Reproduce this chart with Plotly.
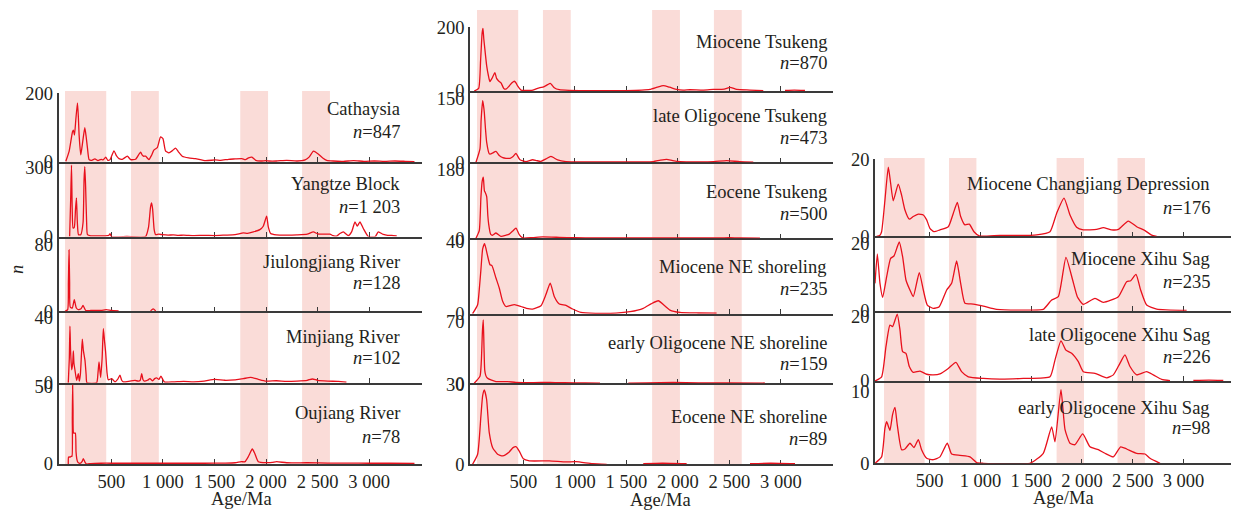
import plotly.graph_objects as go

W, H = 1239, 512
OFF = 8  # default page margin around the plot div

# ---------------- data ----------------
age_ticks = [500, 1000, 1500, 2000, 2500, 3000]
age_tick_text = ["500", "1 000", "1 500", "2 000", "2 500", "3 000"]
band_starts = [50, 690, 1750, 2350]
band_ends = [450, 960, 2020, 2620]

# (age Ma, count) pairs; (None, None) = gap
cathaysia = [(58,2),(90,31),(123,89),(132,94),(142,79),(155,125),(171,174),(180,130),(187,79),(203,21),(222,60),(242,101),(255,75),(268,41),(284,7),(310,5),(340,9),(370,4),(400,8),(420,6),(445,14),(465,5),(487,7),(525,33),(550,18),(574,10),(606,8),(655,17),(687,7),(735,8),(783,29),(800,20),(810,17),(832,17),(864,7),(890,20),(912,35),(945,42),(977,74),(1000,69),(1025,33),(1057,27),(1090,33),(1122,41),(1150,30),(1187,17),(1250,12),(1315,10),(1412,4),(1508,6),(1560,5),(1637,8),(1700,9),(1766,10),(1800,7),(1830,12),(1863,14),(1900,5),(1950,3),(2000,4),(2030,3),(2100,3),(2200,5),(2300,3),(2380,6),(2420,15),(2460,32),(2500,25),(2550,12),(2589,5),(2650,3),(2750,2),(2850,4),(2950,2),(3050,3),(3150,2),(3250,3),(3350,2),(3440,1)]
yangtze = [(95,0),(105,160),(113,312),(120,120),(128,37),(140,40),(152,120),(161,169),(170,60),(181,8),(203,8),(225,60),(235,250),(242,306),(250,220),(260,60),(268,8),(300,3),(350,3),(400,3),(440,3),(475,5),(487,12),(500,0),(650,0),(832,0),(860,40),(880,130),(890,147),(900,120),(915,30),(929,8),(960,10),(993,8),(1050,6),(1100,7),(1150,5),(1200,6),(1300,4),(1400,5),(1500,4),(1600,6),(1700,8),(1780,16),(1820,14),(1877,20),(1940,30),(1973,45),(2006,89),(2022,42),(2045,13),(2100,7),(2200,6),(2300,7),(2400,10),(2459,20),(2500,12),(2560,10),(2620,10),(2650,4),(2685,1.5),(2717,13),(2750,20),(2798,4),(2830,20),(2863,64),(2885,45),(2911,64),(2944,35),(2992,0),(3060,0),(3089,20),(3138,9),(3180,5),(3220,5),(3268,3)]
jiulongjiang = [(50,0),(76,2),(83,35),(89,74),(95,35),(101,5),(121,4),(140,14),(160,4),(179,2),(205,3),(225,7),(251,1),(300,1),(400,1),(450,2),(500,1),(570,0.5),(None,None),(880,0.5),(905,3),(930,0.5)]
minjiang = [(82,0),(92,15),(98,35),(104,20),(115,8),(125,12),(131,19.6),(137,12),(147,7.7),(163,1.4),(179,5.6),(189,1),(199,5),(210,18),(218,27),(228,20),(244,13.8),(255,5),(263,0),(357,0),(370,6),(380,12.8),(388,8),(396,3.3),(410,15),(422,33.4),(433,26),(444,19),(458,6),(470,1.8),(503,2.5),(535,0.5),(560,2),(583,4.6),(600,1.5),(616,0.5),(680,1),(729,1.4),(761,1),(780,1.5),(794,5.6),(806,2),(819,1),(850,1.5),(874,2.5),(900,1.2),(920,2.5),(939,3),(960,2),(981,4),(1013,0.5),(1100,0.5),(1200,0.8),(1300,0.5),(1400,1),(1500,2),(1600,1.5),(1700,1.8),(1780,2.5),(1850,3.3),(1920,2.2),(2000,1),(2100,1.2),(2200,0.8),(2300,1),(2400,1.5),(2450,2.3),(2500,1.5),(2600,1),(2700,0.8),(2780,0.3)]
oujiang = [(82,0),(85,4.5),(100,4.5),(110,5),(118,5),(121,30),(124,51),(128,35),(134,20),(150,20),(157,8),(166,2.8),(176,1),(186,0.6),(200,0.5),(215,1.5),(228,3.4),(245,1),(260,0),(300,0.3),(400,0.5),(500,0.5),(600,0.5),(700,0.5),(800,0.5),(900,0.5),(1000,0.5),(1200,0.5),(1400,0.5),(1600,0.6),(1700,0.8),(1760,1.5),(1796,1.5),(1830,5),(1867,9.7),(1890,7),(1925,1.5),(2006,0.9),(2060,1),(2103,1.5),(2200,0.8),(2400,0.8),(2600,0.6),(2800,0.6),(3000,0.5),(3200,0.5),(3440,0.4)]

miocene_tsukeng = [(23,0),(66,8.5),(85,98),(100,185),(108,199),(116,165),(124,140),(144,80),(160,50),(175,30),(195,40),(224,58),(240,40),(260,32),(283,26),(310,8),(331,6),(363,16),(390,26),(412,31),(430,25),(444,16),(477,3),(520,2),(580,2),(638,8.5),(703,14),(735,20),(761,24),(780,18),(800,10.6),(849,4),(946,2),(1100,1.5),(1300,1.5),(1500,1.5),(1650,3),(1729,5),(1800,12),(1858,17),(1920,12),(1988,5),(2050,3),(2117,4),(2250,3),(2344,5),(2450,6),(2506,11.6),(2571,5),(2700,3),(2829,1),(None,None),(3040,2),(3130,3),(3234,2)]
late_olig_tsukeng = [(40,0),(79,31.6),(90,100),(105,146),(113,135),(121,118),(132,80),(144,47),(169,20),(185,20),(202,22),(234,26),(266,16),(300,11),(331,9.5),(370,9.5),(400,14),(428,21),(467,6),(525,1.6),(590,6),(629,4),(671,2.4),(719,8),(768,14),(833,5.5),(914,1.6),(1100,1),(1300,1),(1496,1),(1650,1),(1761,1.6),(1830,5),(1891,7),(1950,4),(2020,1.6),(2200,1),(2350,1.5),(2474,4),(2600,1.5),(2732,0.5)]
eocene_tsukeng = [(40,0),(72,20),(88,108),(100,150),(111,161),(122,125),(130,121),(144,110),(155,60),(163,38),(182,11),(200,8),(234,14),(283,5),(330,8),(363,11),(400,20),(428,27),(460,10),(493,1),(590,2),(687,3.5),(849,2.6),(1000,1.5),(1200,1),(1400,1),(1600,1),(1800,1.2),(2000,1),(2200,1),(2400,1.2),(2500,1.5),(2600,1),(2797,0.5)]
miocene_ne = [(7,0),(56,5),(70,12),(88,24.5),(105,36),(124,38.9),(150,32.8),(176,27.2),(195,26.7),(234,19.8),(266,14.3),(299,6.9),(331,4),(370,4.5),(412,5),(477,4),(530,3),(590,2.6),(671,4.4),(719,10.6),(761,17),(800,9.6),(849,5.4),(914,4.6),(978,2.6),(1059,0.7),(1200,0.2),(1400,0.3),(1535,1.1),(1664,3),(1740,5.5),(1810,7.2),(1870,4.5),(1923,2),(2020,0.7),(2200,0.4),(2376,0.3)]
early_olig_ne = [(23,0),(79,8),(92,25),(103,60),(111,72),(118,40),(125,15),(135,9),(150,6),(185,3.8),(234,1.9),(347,1.9),(428,1.1),(600,0.8),(758,1.1),(900,0.6),(1100,0.5),(1244,0.3),(None,None),(1519,0.3),(1700,0.5),(1956,1),(2200,0.5),(2500,0.5),(2846,0.3)]
eocene_ne = [(7,0),(56,3.8),(88,18.3),(105,26),(121,28.1),(143,24.6),(169,12),(202,6.3),(250,3.8),(299,3.2),(363,4.7),(400,6.3),(428,6.7),(460,5),(499,2.1),(558,1.3),(752,1.3),(914,0.9),(1011,1),(1172,0.25),(1309,0),(None,None),(1664,0.2),(1850,0.4),(2085,0.2),(None,None),(2700,0.2),(2900,0.4),(3137,0.2)]

miocene_changjiang = [(-23,0),(10,0.3),(26,1.2),(59,9.5),(92,18.1),(115,13.9),(141,9.3),(190,13.7),(223,10.8),(256,6.9),(299,4.5),(338,5.2),(388,5.8),(437,5.6),(470,4.3),(502,2.1),(542,1.2),(601,1.7),(683,2.5),(732,6),(772,8.9),(805,5.2),(847,3),(890,3.2),(936,1.2),(988,0.1),(1192,0.26),(1488,0.26),(1553,0.35),(1685,1.2),(1750,6),(1823,10),(1882,5.6),(1947,2.4),(2013,1.7),(2144,1.8),(2210,2.3),(2292,1.7),(2358,1.8),(2456,4),(2539,2.5),(2621,1.5),(2686,0.3),(2736,0)]
miocene_xihu = [(-39,8.2),(-16,17),(10,8.2),(36,4),(76,10.2),(115,15.7),(148,16.4),(200,20.6),(233,16.2),(266,9.2),(305,6.2),(338,4.2),(397,11.4),(437,6.2),(476,1.7),(535,0.7),(594,1.2),(667,6.2),(716,8.2),(765,14.9),(805,8.2),(847,2.2),(929,2),(1028,1.4),(1159,0.4),(1488,0.2),(1619,0.4),(1701,3.2),(1767,4.2),(1842,16),(1908,9.2),(1954,4.2),(2013,1.9),(2128,3.7),(2210,2.5),(2358,4.2),(2440,8.7),(2480,9),(2532,10.9),(2578,6.2),(2637,1.7),(2736,0.5),(3031,0.1)]
late_olig_xihu = [(-39,0),(26,1.3),(69,10.7),(108,17.4),(134,16.9),(180,20.8),(207,15.9),(233,9.1),(266,8.6),(299,4.5),(338,2.7),(404,3.1),(470,2.1),(535,1.9),(601,2.2),(683,3.9),(758,5.8),(814,2.9),(880,1.3),(1028,0.8),(1192,0.6),(1422,0.8),(1685,1.3),(1734,6.5),(1793,12.5),(1842,9.6),(1898,8.6),(1964,6),(2013,2.9),(2128,2.4),(2243,1),(2309,1.9),(2374,5.5),(2423,8.1),(2473,4.5),(2539,1.9),(2637,2.9),(2703,1.9),(2785,0.5),(2867,0.1),(None,None),(3097,0.2),(3250,0.3),(3392,0.2)]
early_olig_xihu = [(-39,0),(26,0.9),(59,4.9),(76,5.8),(108,4.6),(134,6.8),(158,7.8),(180,5.4),(223,1.9),(256,2),(305,2.8),(345,2.2),(388,3.3),(420,1.9),(470,0.7),(535,0.5),(601,0.9),(673,2.8),(716,1.3),(798,1.1),(897,0.9),(962,0.1),(1028,0),(1488,0),(1619,1.4),(1701,5.1),(1734,3),(1793,10.3),(1833,4.7),(1882,2.8),(1931,2.6),(2007,4.1),(2079,2.3),(2161,1.9),(2226,1.4),(2309,0.9),(2381,2.3),(2440,2),(2539,1.4),(2621,1.3),(2670,0.7),(2769,0)]

left_series = [cathaysia, yangtze, jiulongjiang, minjiang, oujiang]
left_names = ["Cathaysia", "Yangtze Block", "Jiulongjiang River", "Minjiang River", "Oujiang River"]
left_counts = ["847", "1 203", "128", "102", "78"]
left_ymax = [200, 300, 80, 40, 50]

mid_series = [miocene_tsukeng, late_olig_tsukeng, eocene_tsukeng, miocene_ne, early_olig_ne, eocene_ne]
mid_names = ["Miocene Tsukeng", "late Oligocene Tsukeng", "Eocene Tsukeng", "Miocene NE shoreling",
             "early Oligocene NE shoreline", "Eocene NE shoreline"]
mid_counts = ["870", "473", "500", "235", "159", "89"]
mid_ymax = [200, 150, 180, 40, 70, 30]

right_series = [miocene_changjiang, miocene_xihu, late_olig_xihu, early_olig_xihu]
right_names = ["Miocene Changjiang Depression", "Miocene Xihu Sag", "late Oligocene Xihu Sag", "early Oligocene Xihu Sag"]
right_counts = ["176", "235", "226", "98"]
right_ymax = [20, 20, 20, 10]

# ---------------- layout geometry (pixels in the target picture) ----------------
FONT = "Liberation Serif, Times New Roman, serif"
TXT = "#231f20"
AXC = "#3a3a3a"
RED = "#e8101c"
BAND = "#fadcd8"
FS = 18.5

columns = [
    dict(series=left_series, names=left_names, counts=left_counts, ymax=left_ymax,
         x0=58.5, x1=422, xr=(-13, 3513), band_top=91, band_bot=464, tx=401.7, title=(241, 499),
         rows=[(93, 162, 94, 108.7, 131.7), (162, 236.5, 168, 184.3, 206.7), (236.5, 311.3, 245, 262.3, 283.3),
               (311.3, 382.7, 318, 337.3, 358.3), (382.7, 464, 386.7, 413.3, 436.7)]),
    dict(series=mid_series, names=mid_names, counts=mid_counts, ymax=mid_ymax,
         x0=470, x1=833, xr=(-18, 3506), band_top=10, band_bot=464.3, tx=829, title=(661, 500),
         rows=[(27, 91, 28, 41.7, 63.3), (91, 162.3, 99, 116, 138.3), (162.3, 238.3, 170, 191.7, 214.3),
               (238.3, 313.7, 241.7, 266.7, 289.3), (313.7, 383.3, 321.7, 343.3, 364.3),
               (383.3, 464.3, 385, 417.3, 439.3)]),
    dict(series=right_series, names=right_names, counts=right_counts, ymax=right_ymax,
         x0=875, x1=1238, xr=(-39, 3537), band_top=158, band_bot=463.3, tx=1211.7, title=(1063, 498),
         rows=[(159.3, 236.3, 160, 184.3, 208.3), (236.3, 310.7, 244, 259.3, 281.7),
               (310.7, 381, 316.7, 335, 356.7), (381, 463.3, 391.7, 408.3, 428.3)]),
]


def px(x):
    return (x - OFF) / W


def py(y):
    return 1 - (y - OFF) / H


def sid(k):
    return "" if k == 1 else str(k)


fig = go.Figure()
layout = dict(width=W, height=H, autosize=False, margin=dict(l=0, r=0, t=0, b=0),
              paper_bgcolor="white", plot_bgcolor="rgba(0,0,0,0)", template="none",
              showlegend=False, font=dict(family=FONT, size=FS, color=TXT))
shapes, annotations = [], []
tickfont = dict(family=FONT, size=FS, color=TXT)

k = 0
for col in columns:
    nrows = len(col["rows"])
    bottom_k = None
    for i, (y0, y1, ly, ny, cy) in enumerate(col["rows"]):
        k += 1
        top = col["ymax"][i]
        rmax = top * (y1 - y0) / (y1 - ly)
        pts = col["series"][i]
        xs = [p[0] for p in pts]
        ys = [p[1] for p in pts]
        fig.add_trace(go.Scatter(x=xs, y=ys, mode="lines", xaxis="x" + sid(k), yaxis="y" + sid(k),
                                 line=dict(color=RED, width=1.3, shape="spline", smoothing=0.5),
                                 hoverinfo="skip", connectgaps=False))
        is_bottom = (i == nrows - 1)
        layout["xaxis" + sid(k)] = dict(
            domain=[px(col["x0"]), px(col["x1"])], range=list(col["xr"]), anchor="y" + sid(k),
            showline=True, linecolor=AXC, linewidth=1.5, mirror=False, layer="below traces",
            ticks="inside", ticklen=5, tickwidth=1.3, tickcolor=AXC,
            tickmode="array", tickvals=age_ticks, ticktext=age_tick_text,
            showticklabels=is_bottom, tickfont=tickfont, showgrid=False, zeroline=False, fixedrange=True)
        layout["yaxis" + sid(k)] = dict(
            domain=[py(y1), py(y0)], range=[0, rmax], anchor="x" + sid(k),
            showline=True, linecolor=AXC, linewidth=1.5, layer="below traces",
            ticks="", tickmode="array", tickvals=[0, top], ticktext=["0", str(top)],
            tickfont=tickfont, showgrid=False, zeroline=False, fixedrange=True)
        annotations.append(dict(x=px(col["tx"]), y=py(ny), xref="paper", yref="paper", text=col["names"][i],
                                xanchor="right", yanchor="middle", showarrow=False,
                                font=dict(family=FONT, size=FS, color=TXT)))
        annotations.append(dict(x=px(col["tx"]), y=py(cy), xref="paper", yref="paper",
                                text="<i>n</i>=" + col["counts"][i],
                                xanchor="right", yanchor="middle", showarrow=False,
                                font=dict(family=FONT, size=FS, color=TXT)))
        if is_bottom:
            bottom_k = k
    for b0, b1 in zip(band_starts, band_ends):
        shapes.append(dict(type="rect", xref="x" + sid(bottom_k), yref="paper", x0=b0, x1=b1,
                           y0=py(col["band_bot"]), y1=py(col["band_top"]),
                           fillcolor=BAND, line=dict(width=0), layer="below"))
    annotations.append(dict(x=px(col["title"][0]), y=py(col["title"][1]), xref="paper", yref="paper",
                            text="Age/Ma", xanchor="center", yanchor="middle", showarrow=False,
                            font=dict(family=FONT, size=FS, color=TXT)))

annotations.append(dict(x=px(17), y=py(270), xref="paper", yref="paper", text="<i>n</i>",
                        textangle=-90, xanchor="center", yanchor="middle", showarrow=False,
                        font=dict(family=FONT, size=FS, color=TXT)))

layout["shapes"] = shapes
layout["annotations"] = annotations
fig.update_layout(**layout)
fig.write_html("out.html")
